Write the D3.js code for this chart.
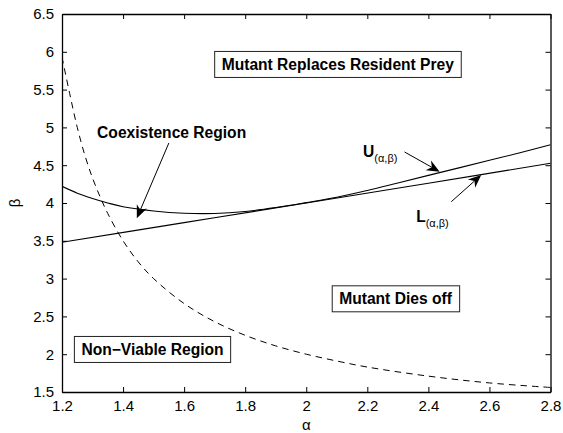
<!DOCTYPE html>
<html>
<head>
<meta charset="utf-8">
<script src="https://cdn.jsdelivr.net/npm/d3@7"></script>
<style>
  html, body { margin: 0; padding: 0; background: #fff; }
  svg { display: block; font-family: "Liberation Sans", Arial, Helvetica, sans-serif; }
</style>
</head>
<body>
<svg id="chart" width="563" height="433"></svg>
<script>
// Boundary curves in the (alpha, beta) parameter plane
const alphaViable = [1.2, 1.225, 1.25, 1.275, 1.3, 1.325, 1.35, 1.4, 1.45, 1.5, 1.6, 1.7, 1.8, 1.9, 2.0, 2.1, 2.2, 2.4, 2.6, 2.8];
const betaViable  = [5.93, 5.45, 5.0, 4.63, 4.33, 4.08, 3.86, 3.5, 3.22, 3.0, 2.67, 2.43, 2.25, 2.11, 2.0, 1.91, 1.83, 1.71, 1.62, 1.56];

const alphaUpper = [1.2, 1.25, 1.3, 1.35, 1.4, 1.5, 1.6, 1.7, 1.8, 1.9, 2.0, 2.1, 2.2, 2.3, 2.4, 2.5, 2.6, 2.7, 2.8];
const betaUpper  = [4.22, 4.13, 4.06, 4.0, 3.95, 3.895, 3.865, 3.862, 3.888, 3.94, 4.005, 4.075, 4.165, 4.265, 4.365, 4.465, 4.565, 4.665, 4.77];

const alphaLower = [1.2, 1.6, 2.0, 2.4, 2.8];
const betaLower  = [3.48, 3.74, 4.0, 4.262, 4.525];

// Axis ticks
const xTicks = [1.2, 1.4, 1.6, 1.8, 2, 2.2, 2.4, 2.6, 2.8];
const yTicks = [1.5, 2, 2.5, 3, 3.5, 4, 4.5, 5, 5.5, 6, 6.5];

// Region labels (text start, baseline in data coordinates)
const regionBoxes = [
  { text: "Mutant Replaces Resident Prey", a: 1.723, b: 5.76 },
  { text: "Mutant Dies off",               a: 2.108, b: 2.66 },
  { text: "Non\u2212Viable Region",        a: 1.2635, b: 1.99 }
];

const svg = d3.select("#chart");
const plotLeft = 62, plotRight = 550.5, plotTop = 14, plotBottom = 392;

const x = d3.scaleLinear().domain([1.2, 2.8]).range([plotLeft, plotRight]);
const y = d3.scaleLinear().domain([1.5, 6.5]).range([plotBottom, plotTop]);

const line = d3.line().x(d => x(d[0])).y(d => y(d[1])).curve(d3.curveCatmullRom.alpha(0.5));

const g = svg.append("g");

// clip to the plot area
svg.append("clipPath").attr("id", "plotclip")
  .append("rect").attr("x", plotLeft).attr("y", plotTop)
  .attr("width", plotRight - plotLeft).attr("height", plotBottom - plotTop);

const curves = g.append("g").attr("clip-path", "url(#plotclip)");

curves.append("path")
  .datum(d3.zip(alphaViable, betaViable))
  .attr("d", line).attr("fill", "none").attr("stroke", "#000")
  .attr("stroke-width", 1).attr("stroke-dasharray", "6.5,5");

curves.append("path")
  .datum(d3.zip(alphaUpper, betaUpper))
  .attr("d", line).attr("fill", "none").attr("stroke", "#000").attr("stroke-width", 1.1);

curves.append("path")
  .datum(d3.zip(alphaLower, betaLower))
  .attr("d", line).attr("fill", "none").attr("stroke", "#000").attr("stroke-width", 1.1);

// Axes: box with inward ticks on all four sides
const tickLen = 5;
const axBottom = d3.axisBottom(x).tickValues(xTicks).tickSizeInner(-tickLen).tickSizeOuter(0).tickPadding(8).tickFormat(d3.format("~g"));
const axLeft = d3.axisLeft(y).tickValues(yTicks).tickSizeInner(-tickLen).tickSizeOuter(0).tickPadding(8).tickFormat(d3.format("~g"));
const axTop = d3.axisTop(x).tickValues(xTicks).tickSizeInner(-tickLen).tickSizeOuter(0).tickFormat("");
const axRight = d3.axisRight(y).tickValues(yTicks).tickSizeInner(-tickLen).tickSizeOuter(0).tickFormat("");

function styleAxis(sel) {
  sel.select(".domain").attr("stroke", "#000").attr("stroke-width", 1.3);
  sel.selectAll(".tick line").attr("stroke", "#000").attr("stroke-width", 1);
  sel.selectAll(".tick text").attr("fill", "#000").attr("font-size", 15)
    .attr("font-family", "'Liberation Sans', Arial, Helvetica, sans-serif");
}

g.append("g").attr("transform", `translate(0,${plotBottom})`).call(axBottom).call(styleAxis);
g.append("g").attr("transform", `translate(${plotLeft},0)`).call(axLeft).call(styleAxis);
g.append("g").attr("transform", `translate(0,${plotTop})`).call(axTop).call(styleAxis);
g.append("g").attr("transform", `translate(${plotRight},0)`).call(axRight).call(styleAxis);

// Axis titles
g.append("text").attr("x", (plotLeft + plotRight) / 2).attr("y", 430)
  .attr("text-anchor", "middle").attr("font-size", 15).text("\u03b1");
g.append("text").attr("transform", `translate(20,${(plotTop + plotBottom) / 2}) rotate(-90)`)
  .attr("text-anchor", "middle").attr("font-size", 15).text("\u03b2");

// Boxed region labels
const boldSize = 15.6;
regionBoxes.forEach(r => {
  const lg = g.append("g");
  const rect = lg.append("rect");
  const t = lg.append("text").attr("x", x(r.a)).attr("y", y(r.b))
    .attr("font-size", boldSize).attr("font-weight", "bold").text(r.text);
  const bb = t.node().getBBox();
  rect.attr("x", bb.x - 7).attr("y", bb.y - 4.5)
    .attr("width", bb.width + 14).attr("height", bb.height + 9)
    .attr("fill", "#fff").attr("stroke", "#222").attr("stroke-width", 1);
});

// Free label
g.append("text").attr("x", x(1.315)).attr("y", y(4.86))
  .attr("font-size", boldSize).attr("font-weight", "bold").text("Coexistence Region");

// Curve labels with subscripts
function subLabel(letter, a, b) {
  const t = g.append("text").attr("x", x(a)).attr("y", y(b)).attr("font-size", boldSize).attr("font-weight", "bold");
  t.append("tspan").text(letter);
  t.append("tspan").attr("font-size", 11).attr("font-weight", "normal").attr("dy", 5).text("(\u03b1,\u03b2)");
}
subLabel("U", 2.186, 4.61);
subLabel("L", 2.36, 3.75);

// Annotation arrows (tail -> tip, data coordinates)
const arrows = [
  { from: [1.550, 4.794], to: [1.445, 3.798] },
  { from: [2.322, 4.675], to: [2.437, 4.414] },
  { from: [2.475, 4.017], to: [2.573, 4.37] }
];
arrows.forEach(ar => {
  const x1 = x(ar.from[0]), y1 = y(ar.from[1]);
  const x2 = x(ar.to[0]), y2 = y(ar.to[1]);
  const ang = Math.atan2(y2 - y1, x2 - x1);
  const len = 13, half = 5.5, notch = 9;
  const ux = Math.cos(ang), uy = Math.sin(ang);
  const px = -uy, py = ux;
  const bx = x2 - ux * len, by = y2 - uy * len;
  const nx = x2 - ux * notch, ny = y2 - uy * notch;
  g.append("line").attr("x1", x1).attr("y1", y1).attr("x2", nx).attr("y2", ny)
    .attr("stroke", "#000").attr("stroke-width", 1);
  g.append("path")
    .attr("d", `M${x2},${y2}L${bx + px * half},${by + py * half}L${nx},${ny}L${bx - px * half},${by - py * half}Z`)
    .attr("fill", "#000");
});
</script>
</body>
</html>
